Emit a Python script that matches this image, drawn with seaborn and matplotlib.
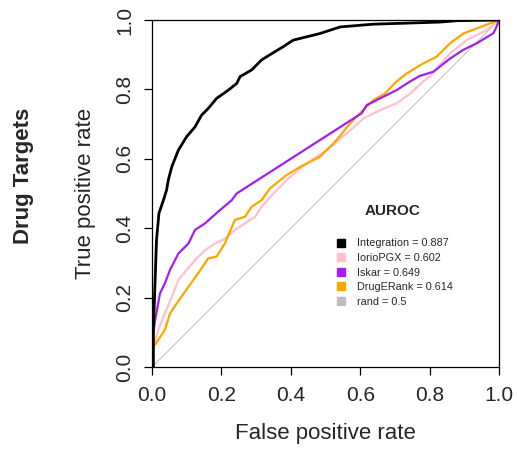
import numpy as np
import pandas as pd
import matplotlib
matplotlib.use("Agg")
import matplotlib.pyplot as plt
import seaborn as sns
from matplotlib.lines import Line2D

# ---- data ----
integ_fpr = [0.0, 0.004, 0.004, 0.009, 0.013, 0.020, 0.033, 0.042, 0.047, 0.057, 0.076, 0.100, 0.124,
             0.143, 0.162, 0.186, 0.220, 0.244, 0.254, 0.287, 0.316, 0.340, 0.378, 0.407, 0.484,
             0.542, 0.638, 0.830, 0.878, 1.0]
integ_tpr = [0.0, 0.0, 0.107, 0.251, 0.366, 0.443, 0.481, 0.510, 0.539, 0.577, 0.625, 0.664, 0.692,
             0.726, 0.745, 0.774, 0.798, 0.817, 0.837, 0.856, 0.885, 0.900, 0.923, 0.942, 0.961,
             0.980, 0.988, 0.994, 0.998, 1.0]

iorio_fpr = [0.0, 0.004, 0.018, 0.037, 0.057, 0.076, 0.100, 0.124, 0.153, 0.182, 0.210, 0.239, 0.268,
             0.297, 0.316, 0.350, 0.388, 0.446, 0.504, 0.561, 0.609, 0.657, 0.705, 0.744, 0.782,
             0.801, 0.859, 0.907, 0.965, 1.0]
iorio_tpr = [0.0, 0.058, 0.107, 0.154, 0.202, 0.251, 0.280, 0.308, 0.337, 0.356, 0.370, 0.395, 0.414,
             0.433, 0.462, 0.500, 0.539, 0.587, 0.625, 0.673, 0.716, 0.740, 0.760, 0.788, 0.823,
             0.837, 0.904, 0.942, 0.971, 1.0]

iskar_fpr = [0.0, 0.0, 0.009, 0.023, 0.037, 0.052, 0.076, 0.105, 0.124, 0.153, 0.191, 0.230, 0.244,
             0.604, 0.619, 0.657, 0.705, 0.744, 0.772, 0.811, 0.859, 0.897, 0.936, 0.984, 0.993, 1.0]
iskar_tpr = [0.0, 0.068, 0.135, 0.212, 0.241, 0.280, 0.327, 0.356, 0.395, 0.414, 0.448, 0.481, 0.500,
             0.731, 0.755, 0.774, 0.798, 0.823, 0.839, 0.851, 0.889, 0.914, 0.933, 0.962, 0.981, 1.0]

drug_fpr = [0.0, 0.0, 0.004, 0.018, 0.037, 0.052, 0.071, 0.105, 0.133, 0.162, 0.186, 0.210, 0.239,
            0.268, 0.287, 0.316, 0.340, 0.388, 0.427, 0.484, 0.532, 0.571, 0.599, 0.638, 0.671,
            0.705, 0.734, 0.782, 0.820, 0.859, 0.897, 1.0]
drug_tpr = [0.0, 0.006, 0.058, 0.078, 0.107, 0.154, 0.183, 0.231, 0.270, 0.313, 0.318, 0.356, 0.424,
            0.433, 0.462, 0.481, 0.515, 0.553, 0.577, 0.606, 0.654, 0.702, 0.731, 0.769, 0.788,
            0.823, 0.846, 0.875, 0.894, 0.933, 0.961, 1.0]

rand_fpr = [0.0, 1.0]
rand_tpr = [0.0, 1.0]

names = ["Integration", "IorioPGX", "Iskar", "DrugERank", "rand"]
aurocs = ["0.887", "0.602", "0.649", "0.614", "0.5"]
colors = ["#000000", "#FFC0CB", "#A020F0", "#FFA500", "#BEBEBE"]
xticks = [0.0, 0.2, 0.4, 0.6, 0.8, 1.0]
yticks = [0.0, 0.2, 0.4, 0.6, 0.8, 1.0]

series = {
    "rand": (rand_fpr, rand_tpr),
    "DrugERank": (drug_fpr, drug_tpr),
    "IorioPGX": (iorio_fpr, iorio_tpr),
    "Iskar": (iskar_fpr, iskar_tpr),
    "Integration": (integ_fpr, integ_tpr),
}
widths = {"Integration": 2.0, "IorioPGX": 1.6, "Iskar": 1.6, "DrugERank": 1.6, "rand": 0.7}

sns.set_style("ticks")
plt.rcParams["font.family"] = ["Liberation Sans", "DejaVu Sans"]

W, H = 517, 451
fig = plt.figure(figsize=(W / 100, H / 100), dpi=100)
ax = fig.add_axes([152 / W, 1 - 367 / H, (499 - 152) / W, (367 - 20) / H])

draw_order = ["rand", "IorioPGX", "DrugERank", "Iskar", "Integration"]
for name in draw_order:
    fx, ty = series[name]
    df = pd.DataFrame({"fpr": fx, "tpr": ty})
    sns.lineplot(data=df, x="fpr", y="tpr", sort=False, estimator=None, ax=ax,
                 color=colors[names.index(name)], linewidth=widths[name])

ax.set_xlim(0, 1)
ax.set_ylim(0, 1)
ax.set_xticks(xticks)
ax.set_yticks(yticks)
ax.set_xticklabels([f"{v:.1f}" for v in xticks], fontsize=15)
ax.set_yticklabels([f"{v:.1f}" for v in yticks], fontsize=15, rotation=90, va="center")
ax.tick_params(axis="both", direction="out", length=6, width=0.9, color="black")
ax.tick_params(axis="x", pad=8)
ax.tick_params(axis="y", pad=7)
for s in ax.spines.values():
    s.set_visible(True)
    s.set_color("black")
    s.set_linewidth(0.9)
ax.set_xlabel("False positive rate", fontsize=16, labelpad=13)
ax.set_ylabel("True positive rate", fontsize=16, labelpad=14)

fig.text(24 / W, 1 - 176 / H, "Drug Targets", rotation=90, fontsize=16, fontweight="bold",
         ha="center", va="center")

ax.text(393 / W, 1 - 211 / H, "AUROC", transform=fig.transFigure, fontsize=11,
        fontweight="bold", ha="center", va="center")
handles = [Line2D([], [], marker="s", linestyle="none", color=c, markersize=5.5) for c in colors]
labels = [f"{n} = {a}" for n, a in zip(names, aurocs)]
ax.legend(handles, labels, loc="upper left", bbox_to_anchor=(336 / W, 1 - 238.5 / H),
          bbox_transform=fig.transFigure, frameon=False, fontsize=7.8, handlelength=1.0,
          handletextpad=0.95, labelspacing=0.42, borderpad=0, borderaxespad=0)

fig.savefig("out.png", dpi=100)
